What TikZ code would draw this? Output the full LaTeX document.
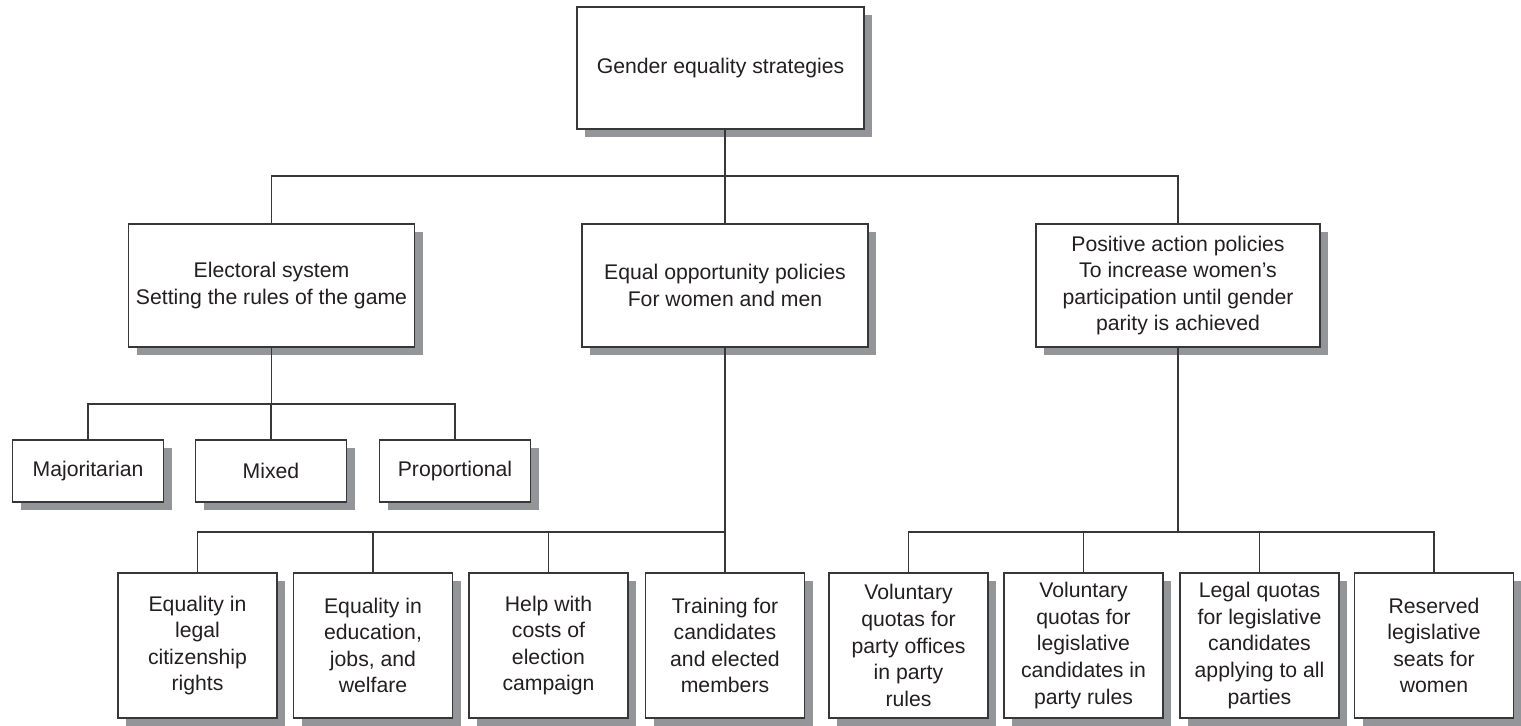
\documentclass[tikz,border=0pt]{standalone}
\usepackage{fontspec}
\setmainfont{Liberation Sans}
\usetikzlibrary{shadows}
\definecolor{shgray}{RGB}{147,149,152}
\definecolor{lncol}{RGB}{55,55,55}
\definecolor{txcol}{RGB}{35,31,32}
\tikzset{
  box/.style={draw=lncol, line width=0.65pt, fill=white, align=center, inner sep=2pt,
    text=txcol, font=\fontsize{10.6}{13.3}\selectfont,
    drop shadow={shadow xshift=4pt, shadow yshift=-4pt, fill=shgray, opacity=1}},
  big/.style={box, minimum width=143pt, minimum height=61.5pt},
  small/.style={box, minimum width=75.5pt, minimum height=31pt},
  leaf/.style={box, minimum width=79.5pt, minimum height=72.5pt},
  conn/.style={draw=lncol, line width=0.65pt}
}
\begin{document}
\begin{tikzpicture}[x=0.5pt, y=-0.5pt]
\useasboundingbox (0,0) rectangle (1521,726);
% level 0
\node[box, minimum width=143.5pt, minimum height=61pt] (top) at (720.5,68) {Gender equality strategies};
% level 1
\node[big] (elec) at (271.5,285.5) {Electoral system\\Setting the rules of the game};
\node[big] (eq) at (725,285.5) {Equal opportunity policies\\For women and men};
\node[big, minimum width=142pt] (pos) at (1178,285.5) {Positive action policies\\To increase women’s\\participation until gender\\parity is achieved};
% level 2 (electoral)
\node[small] (maj) at (88,471) {Majoritarian};
\node[small] (mix) at (271,471) {Mixed};
\node[small] (prop) at (455,471) {Proportional};
% level 2 (equal opportunity)
\node[leaf] (e1) at (197.5,645.5) {Equality in\\legal\\citizenship\\rights};
\node[leaf] (e2) at (373,645.5) {Equality in\\education,\\jobs, and\\welfare};
\node[leaf] (e3) at (548.5,645.5) {Help with\\costs of\\election\\campaign};
\node[leaf] (e4) at (725,645.5) {Training for\\candidates\\and elected\\members};
% level 2 (positive action)
\node[leaf] (p1) at (908.5,645.5) {Voluntary\\quotas for\\party offices\\in party\\rules};
\node[leaf] (p2) at (1083.5,645.5) {Voluntary\\quotas for\\legislative\\candidates in\\party rules};
\node[leaf] (p3) at (1259.5,645.5) {Legal quotas\\for legislative\\candidates\\applying to all\\parties};
\node[leaf] (p4) at (1434,645.5) {Reserved\\legislative\\seats for\\women};
% bus coordinates
\coordinate (b0) at (725,176);
\coordinate (b1) at (271.5,404);
\coordinate (b2) at (725,532);
\coordinate (b3) at (1178,532);
% connectors level 0 -> 1
\draw[conn] (top.south -| eq.north) -- (eq.north);
\draw[conn] (elec.north) |- (b0) -| (pos.north);
% electoral
\draw[conn] (elec.south) -- (b1);
\draw[conn] (maj.north) |- (b1) -| (prop.north);
\draw[conn] (mix.north) -- (mix.north |- b1);
% equal opportunity
\draw[conn] (eq.south) -- (e4.north);
\draw[conn] (e1.north) |- (b2);
\draw[conn] (e2.north) -- (e2.north |- b2);
\draw[conn] (e3.north) -- (e3.north |- b2);
% positive action
\draw[conn] (pos.south) -- (b3);
\draw[conn] (p1.north) |- (b3) -| (p4.north);
\draw[conn] (p2.north) -- (p2.north |- b3);
\draw[conn] (p3.north) -- (p3.north |- b3);
\end{tikzpicture}
\end{document}
